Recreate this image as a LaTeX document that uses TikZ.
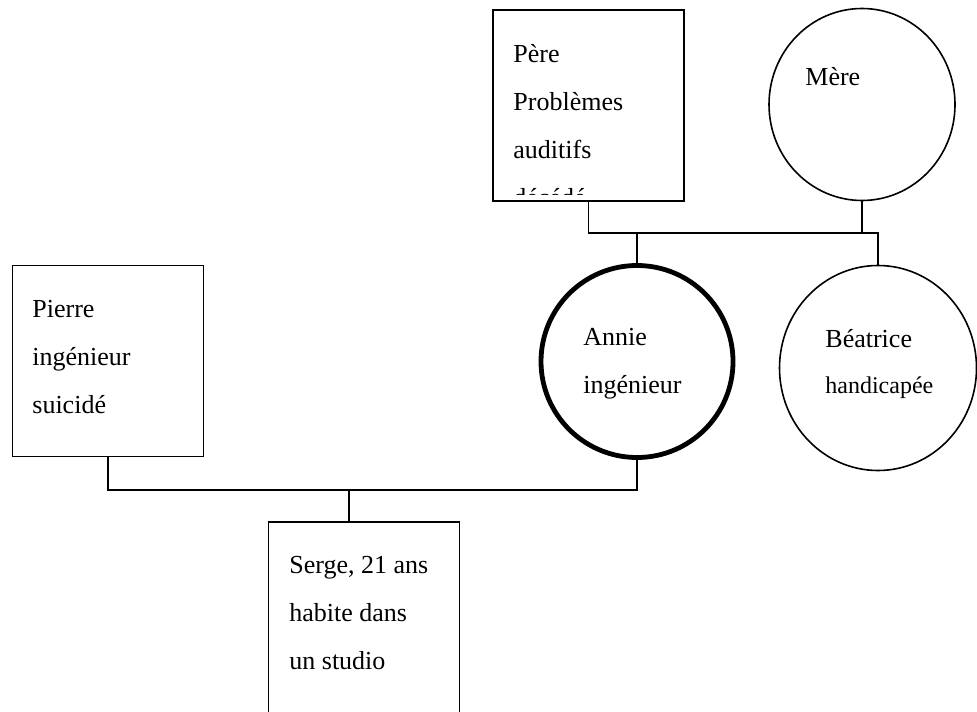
\documentclass[tikz,border=0pt]{standalone}
\usepackage{fontspec}
\setmainfont{Liberation Serif}
\usetikzlibrary{shapes.geometric}

\begin{document}
\begin{tikzpicture}[
    x=0.5pt, y=-0.5pt,
    man/.style={rectangle, draw, line width=0.8pt, inner sep=0, minimum width=95.5pt, minimum height=95.5pt},
    woman/.style={ellipse, draw, line width=0.8pt, inner sep=0},
    patient/.style={woman, line width=2.4pt},
    txt/.style={anchor=base west, align=left, inner sep=0, font=\fontsize{13}{24}\selectfont},
    link/.style={line width=0.8pt}
]
\useasboundingbox (0,0) rectangle (977,711);
\clip (0,0) rectangle (977,711);

% Parents (using absolute coordinates)
\node[man] (pere) at (588.5,105.5) {};
\node[woman, minimum width=93pt, minimum height=96pt] (mere) at (862,104.5) {};

% Children
\node[patient, minimum width=96pt, minimum height=96pt] (annie) at (637,361.5) {};
\node[woman, minimum width=98.5pt, minimum height=102.5pt] (beatrice) at (878,368) {};

% Husband and son
\node[man] (pierre) at (108,361) {};
\node[man, minimum height=120pt] (serge) at (364,642) {};

% Texts (base = baseline of the last line)
\coordinate (pereCut) at (685,194);
\begin{scope}
\clip (pere.north west) rectangle (pereCut);
\node[txt] (pereTxt) at (513,206) {Père\\Problèmes\\auditifs\\décédé};
\end{scope}
\node[txt] (mereTxt) at (805,86) {Mère};
\node[txt] (annieTxt) at (583,393) {Annie\\ingénieur};
\node[txt] (beatriceTxt) at (825,347) {Béatrice};
\node[txt, font=\fontsize{12}{24}\selectfont] (beatriceInfo) at (825,393) {handicapée};
\node[txt] (pierreTxt) at (32,413) {Pierre\\ingénieur\\suicidé};
\node[txt] (sergeTxt) at (289,669) {Serge, 21 ans\\habite dans\\un studio};

% Links between generations
\coordinate (parents) at (0,233);
\coordinate (couple) at (0,490);
\coordinate (sergeLink) at (349,490);

\draw[link] (pere.south) -- (pere.south |- parents) -- (parents -| beatrice.north) -- (beatrice.north);
\draw[link] (mere.south) -- (mere.south |- parents);
\draw[link] (annie.north) -- (annie.north |- parents);

\draw[link] (pierre.south) -- (pierre.south |- couple) -- (couple -| annie.south) -- (annie.south);
\draw[link] (sergeLink) -- (sergeLink |- serge.north);

\end{tikzpicture}
\end{document}
